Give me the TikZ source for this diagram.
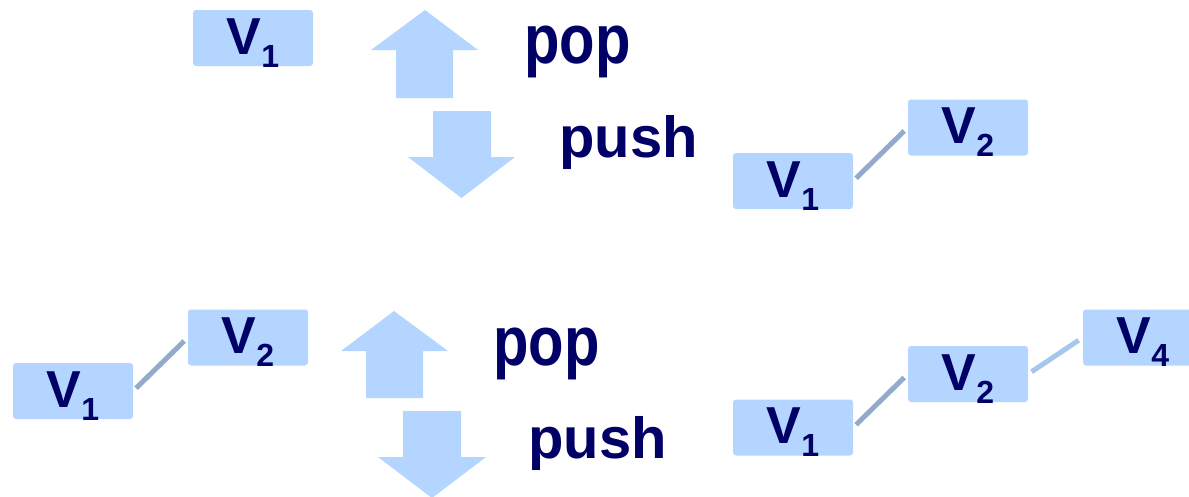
\documentclass[tikz,border=0pt]{standalone}
\usepackage{fontspec}
\setmainfont{Liberation Sans}
\definecolor{boxblue}{RGB}{179,213,255}
\definecolor{navy}{RGB}{0,0,102}
\definecolor{linkA}{RGB}{147,171,203}
\definecolor{linkB}{RGB}{166,198,236}
\newcommand\vlab[1]{\fontsize{52}{52}\selectfont V\raisebox{-13pt}{\fontsize{32}{32}\selectfont #1}}
\tikzset{
  vbox/.style={rectangle, fill=boxblue, rounded corners=3pt, minimum width=120pt,
    minimum height=56pt, inner sep=0pt, text height=44pt, text depth=12pt,
    text=navy, font=\bfseries},
  blockarrow/.style={fill=boxblue, draw=none},
  link/.style={line width=5pt, draw=linkA, shorten <=4pt, shorten >=5pt},
  linklight/.style={line width=5pt, draw=linkB, shorten <=4pt, shorten >=5pt},
  verb/.style={anchor=base west, inner sep=0pt, text=navy, font=\bfseries},
}
\begin{document}
\begin{tikzpicture}[x=1pt,y=-1pt]
\useasboundingbox (0,0) rectangle (1189,496);
% ---------- top half ----------
\node[vbox] (t1) at (253,38) {\vlab{1}};
\fill[blockarrow] (425,10) -- (478,50) -- (453,50) -- (453,98) -- (396,98) -- (396,50) -- (371,50) -- cycle;
\fill[blockarrow] (433,111) -- (491,111) -- (491,157) -- (515,157) -- (461.5,198) -- (408,157) -- (433,157) -- cycle;
\node[verb] (tpop) at (524,63) {\scalebox{1}[1.2]{\fontsize{58}{58}\selectfont pop}};
\node[verb] (tpush) at (559,157) {\fontsize{58}{58}\selectfont push};
\node[vbox] (ta) at (793,181) {\vlab{1}};
\node[vbox] (tb) at (968,127.5) {\vlab{2}};
\draw[link] (ta.east) -- (tb.west);
% ---------- bottom half ----------
\node[vbox] (b1) at (73,391) {\vlab{1}};
\node[vbox] (b2) at (248,337.5) {\vlab{2}};
\draw[link] (b1.east) -- (b2.west);
\fill[blockarrow] (394,311) -- (448,351) -- (423,351) -- (423,398) -- (366,398) -- (366,351) -- (341,351) -- cycle;
\fill[blockarrow] (403,411) -- (461,411) -- (461,457) -- (486,457) -- (432,498) -- (378,457) -- (403,457) -- cycle;
\node[verb] (bpop) at (493,365) {\scalebox{1}[1.2]{\fontsize{58}{58}\selectfont pop}};
\node[verb] (bpush) at (528,458) {\fontsize{58}{58}\selectfont push};
\node[vbox] (ra) at (793,427.5) {\vlab{1}};
\node[vbox] (rb) at (968,374) {\vlab{2}};
\node[vbox] (rc) at (1143,337.5) {\vlab{4}};
\draw[link] (ra.east) -- (rb.west);
\draw[linklight] (rb.east) -- (rc.west);
\end{tikzpicture}
\end{document}
